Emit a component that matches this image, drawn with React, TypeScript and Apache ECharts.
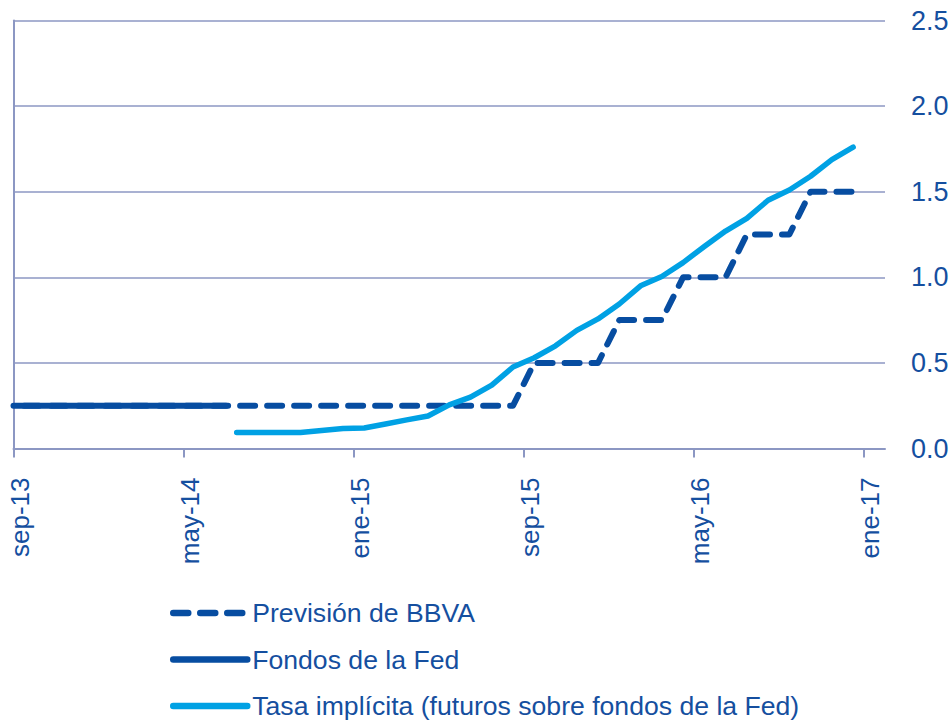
import React, { useEffect, useRef } from "react";
import * as echarts from "echarts";

// Month categories (mid-month positions at index + 0.5)
const months = [
  "sep-13", "oct-13", "nov-13", "dic-13",
  "ene-14", "feb-14", "mar-14", "abr-14", "may-14", "jun-14", "jul-14", "ago-14", "sep-14", "oct-14", "nov-14", "dic-14",
  "ene-15", "feb-15", "mar-15", "abr-15", "may-15", "jun-15", "jul-15", "ago-15", "sep-15", "oct-15", "nov-15", "dic-15",
  "ene-16", "feb-16", "mar-16", "abr-16", "may-16", "jun-16", "jul-16", "ago-16", "sep-16", "oct-16", "nov-16", "dic-16",
  "ene-17",
];
const tickMonths = ["sep-13", "may-14", "ene-15", "sep-15", "may-16", "ene-17"];
const yTicks = [0, 0.5, 1.0, 1.5, 2.0, 2.5];

// Previsión de BBVA: sep-13 .. dic-16
const prevMonths = months.slice(0, 40);
const prevValues = [
  0.25, 0.25, 0.25, 0.25, 0.25, 0.25, 0.25, 0.25, 0.25, 0.25, 0.25, 0.25,
  0.25, 0.25, 0.25, 0.25, 0.25, 0.25, 0.25, 0.25, 0.25, 0.25, 0.25, 0.25,
  0.5, 0.5, 0.5, 0.5,
  0.75, 0.75, 0.75,
  1.0, 1.0, 1.0,
  1.25, 1.25, 1.25,
  1.5, 1.5, 1.5,
];

// Fondos de la Fed: start-of-month, sep-13 .. jul-14
const fedMonths = months.slice(0, 11);
const fedValues = [0.25, 0.25, 0.25, 0.25, 0.25, 0.25, 0.25, 0.25, 0.25, 0.25, 0.25];

// Tasa implícita: jul-14 .. dic-16
const tasaMonths = months.slice(10, 40);
const tasaValues = [
  0.094, 0.094, 0.094, 0.094, 0.105, 0.117, 0.12, 0.143, 0.167, 0.19,
  0.255, 0.3, 0.37, 0.476, 0.53, 0.6, 0.69, 0.757, 0.844, 0.95,
  1.005, 1.086, 1.18, 1.27, 1.344, 1.45, 1.51, 1.59, 1.687, 1.76,
];

const DARK = "#074da1";
const LIGHT = "#00a1e4";
const TEXT = "#154f9f";
const AXIS = "#8c97c3";
const FONT = "'Liberation Sans', Arial, sans-serif";

const mid = (m: string) => months.indexOf(m) + 0.5;
const start = (m: string) => months.indexOf(m);

export default function App() {
  const ref = useRef<HTMLDivElement>(null);
  useEffect(() => {
    if (!ref.current) return;
    const chart = echarts.init(ref.current, null, { renderer: "svg" });
    const tickVals = tickMonths.map((m) => months.indexOf(m));
    chart.setOption({
      animation: false,
      textStyle: { fontFamily: FONT },
      grid: { left: 13.5, right: 66, top: 20.5, bottom: 271.5, outerBoundsMode: "none" },
      legend: {
        orient: "vertical",
        left: 165,
        top: 593,
        height: 130,
        itemWidth: 74,
        itemHeight: 14,
        itemGap: 16.5,
        lineStyle: { width: 6.5, cap: "round" },
        itemStyle: { color: "rgba(0,0,0,0)", borderWidth: 0, opacity: 0 },
        textStyle: { fontSize: 26.6, color: TEXT, fontFamily: FONT, lineHeight: 30 },
        data: ["Previsión de BBVA", "Fondos de la Fed", "Tasa implícita (futuros sobre fondos de la Fed)"],
      },
      xAxis: {
        type: "value",
        min: 0,
        max: months.length,
        splitLine: { show: false },
        axisLine: { show: true, lineStyle: { color: AXIS, width: 2 } },
        axisTick: { show: true, customValues: tickVals, length: 9, lineStyle: { color: AXIS, width: 2 } },
        axisLabel: {
          customValues: tickVals,
          rotate: 90,
          margin: 29,
          fontSize: 26,
          color: TEXT,
          fontFamily: FONT,
          verticalAlign: "top",
          lineHeight: 13,
          formatter: (v: number) => months[Math.round(v)] ?? "",
        },
      },
      yAxis: [
        {
          type: "value",
          position: "right",
          min: 0,
          max: 2.5,
          interval: 0.5,
          axisLine: { show: false },
          axisTick: { show: false },
          splitLine: { show: true, lineStyle: { color: AXIS, width: 1.5 } },
          axisLabel: {
            margin: 26,
            fontSize: 27,
            color: TEXT,
            fontFamily: FONT,
            customValues: yTicks,
            formatter: (v: number) => v.toFixed(1),
          },
        },
        {
          type: "value",
          position: "left",
          min: 0,
          max: 2.5,
          axisLine: { show: true, lineStyle: { color: AXIS, width: 2 } },
          axisTick: { show: false },
          axisLabel: { show: false },
          splitLine: { show: false },
        },
      ],
      series: [
        {
          name: "Previsión de BBVA",
          type: "line",
          symbol: "none",
          data: prevMonths.map((m, i) => [mid(m), prevValues[i]]),
          lineStyle: { color: DARK, width: 6, type: [15, 12], cap: "round", join: "round" },
          itemStyle: { color: DARK },
          z: 2,
        },
        {
          name: "Fondos de la Fed",
          type: "line",
          symbol: "none",
          data: fedMonths.map((m, i) => [start(m), fedValues[i]]),
          lineStyle: { color: DARK, width: 6, cap: "round", join: "round" },
          itemStyle: { color: DARK },
          z: 3,
        },
        {
          name: "Tasa implícita (futuros sobre fondos de la Fed)",
          type: "line",
          symbol: "none",
          data: tasaMonths.map((m, i) => [mid(m), tasaValues[i]]),
          lineStyle: { color: LIGHT, width: 5.5, cap: "round", join: "round" },
          itemStyle: { color: LIGHT },
          z: 4,
        },
      ],
    });
    return () => chart.dispose();
  }, []);
  return <div ref={ref} style={{ width: 951, height: 720, position: "absolute", left: 0, top: 0 }} />;
}
